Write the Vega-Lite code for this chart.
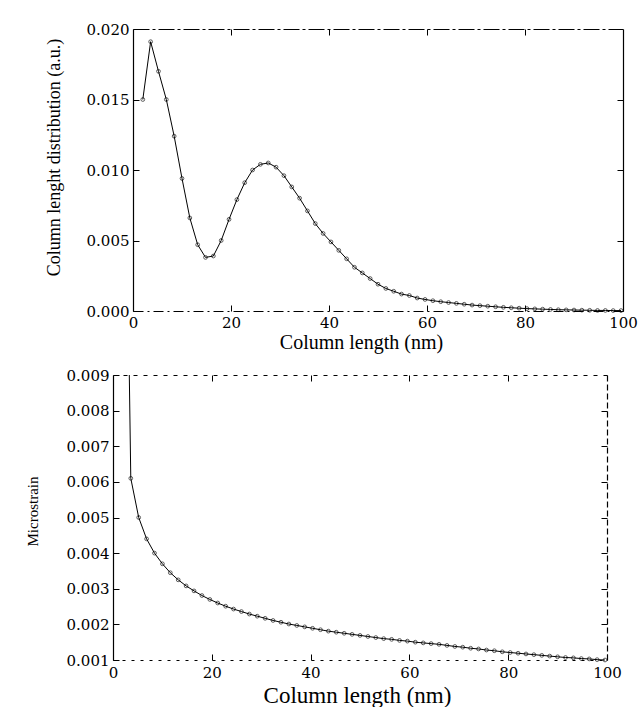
{
  "$schema": "https://vega.github.io/schema/vega-lite/v6.json",
  "padding": {"left": 25, "top": 22, "right": 0, "bottom": 0},
  "background": "white",
  "width": 490,
  "height": 631,
  "config": {
    "view": {"stroke": null},
    "axis": {
      "grid": false,
      "domainColor": "black",
      "tickColor": "black",
      "labelColor": "black",
      "titleColor": "black",
      "labelFont": "DejaVu Serif",
      "labelFontSize": 15,
      "titleFont": "Liberation Serif",
      "titleFontWeight": "normal",
      "tickSize": -6,
      "domainWidth": 1.2,
      "tickWidth": 1,
      "labelFlush": false
    }
  },
  "datasets": {
    "dist": [
      {"length": 2.0, "value": 0.0150}, {"length": 3.6, "value": 0.0191}, {"length": 5.2, "value": 0.0170},
      {"length": 6.8, "value": 0.0150}, {"length": 8.4, "value": 0.0124}, {"length": 10.0, "value": 0.0094},
      {"length": 11.6, "value": 0.0066}, {"length": 13.2, "value": 0.0047}, {"length": 14.8, "value": 0.0038},
      {"length": 16.4, "value": 0.0039}, {"length": 18.0, "value": 0.0050}, {"length": 19.6, "value": 0.0065},
      {"length": 21.2, "value": 0.0079}, {"length": 22.8, "value": 0.0091}, {"length": 24.4, "value": 0.0100},
      {"length": 26.0, "value": 0.0104}, {"length": 27.6, "value": 0.0105}, {"length": 29.2, "value": 0.0102},
      {"length": 30.8, "value": 0.0096}, {"length": 32.4, "value": 0.0088}, {"length": 34.0, "value": 0.0080},
      {"length": 35.6, "value": 0.0071}, {"length": 37.2, "value": 0.0062}, {"length": 38.8, "value": 0.0055},
      {"length": 40.4, "value": 0.0049}, {"length": 42.0, "value": 0.0043}, {"length": 43.6, "value": 0.0037},
      {"length": 45.2, "value": 0.0031}, {"length": 46.8, "value": 0.0027}, {"length": 48.4, "value": 0.0023},
      {"length": 50.0, "value": 0.0019}, {"length": 51.6, "value": 0.0016}, {"length": 53.2, "value": 0.0014},
      {"length": 54.8, "value": 0.0012}, {"length": 56.4, "value": 0.0011}, {"length": 58.0, "value": 0.00092},
      {"length": 59.6, "value": 0.00082}, {"length": 61.2, "value": 0.00073}, {"length": 62.8, "value": 0.00066},
      {"length": 64.4, "value": 0.00060}, {"length": 66.0, "value": 0.00054}, {"length": 67.6, "value": 0.00048},
      {"length": 69.2, "value": 0.00042}, {"length": 70.8, "value": 0.00038}, {"length": 72.4, "value": 0.00034},
      {"length": 74.0, "value": 0.00030}, {"length": 75.6, "value": 0.00026}, {"length": 77.2, "value": 0.00023},
      {"length": 78.8, "value": 0.00020}, {"length": 80.4, "value": 0.00017}, {"length": 82.0, "value": 0.00015},
      {"length": 83.6, "value": 0.00013}, {"length": 85.2, "value": 0.00011}, {"length": 86.8, "value": 0.00009},
      {"length": 88.4, "value": 0.00008}, {"length": 90.0, "value": 0.00007}, {"length": 91.6, "value": 0.00006},
      {"length": 93.2, "value": 0.00005}, {"length": 94.8, "value": 0.00004}, {"length": 96.4, "value": 0.00004},
      {"length": 98.0, "value": 0.00003}, {"length": 99.6, "value": 0.00003}
    ],
    "strain": [
      {"length": 3.3, "strain": 0.0090}, {"length": 3.6, "strain": 0.0061}, {"length": 5.2, "strain": 0.0050},
      {"length": 6.8, "strain": 0.0044}, {"length": 8.4, "strain": 0.0040}, {"length": 10.0, "strain": 0.0037},
      {"length": 11.6, "strain": 0.00345}, {"length": 13.2, "strain": 0.00325}, {"length": 14.8, "strain": 0.00308},
      {"length": 16.4, "strain": 0.00294}, {"length": 18.0, "strain": 0.00281}, {"length": 19.6, "strain": 0.00270},
      {"length": 21.2, "strain": 0.00260}, {"length": 22.8, "strain": 0.00251}, {"length": 24.4, "strain": 0.00243},
      {"length": 26.0, "strain": 0.00236}, {"length": 27.6, "strain": 0.00229}, {"length": 29.2, "strain": 0.00223},
      {"length": 30.8, "strain": 0.00217}, {"length": 32.4, "strain": 0.00211}, {"length": 34.0, "strain": 0.00206},
      {"length": 35.6, "strain": 0.00201}, {"length": 37.2, "strain": 0.00197}, {"length": 38.8, "strain": 0.00193},
      {"length": 40.4, "strain": 0.00189}, {"length": 42.0, "strain": 0.00185}, {"length": 43.6, "strain": 0.00181},
      {"length": 45.2, "strain": 0.00178}, {"length": 46.8, "strain": 0.00175}, {"length": 48.4, "strain": 0.00172},
      {"length": 50.0, "strain": 0.00169}, {"length": 51.6, "strain": 0.00166}, {"length": 53.2, "strain": 0.00163},
      {"length": 54.8, "strain": 0.00160}, {"length": 56.4, "strain": 0.00158}, {"length": 58.0, "strain": 0.00155},
      {"length": 59.6, "strain": 0.00153}, {"length": 61.2, "strain": 0.00150}, {"length": 62.8, "strain": 0.00148},
      {"length": 64.4, "strain": 0.00146}, {"length": 66.0, "strain": 0.00144}, {"length": 67.6, "strain": 0.00141},
      {"length": 69.2, "strain": 0.00138}, {"length": 70.8, "strain": 0.00136}, {"length": 72.4, "strain": 0.00133},
      {"length": 74.0, "strain": 0.00131}, {"length": 75.6, "strain": 0.00128}, {"length": 77.2, "strain": 0.00126},
      {"length": 78.8, "strain": 0.00123}, {"length": 80.4, "strain": 0.00121}, {"length": 82.0, "strain": 0.00119},
      {"length": 83.6, "strain": 0.00117}, {"length": 85.2, "strain": 0.00115}, {"length": 86.8, "strain": 0.00113},
      {"length": 88.4, "strain": 0.00111}, {"length": 90.0, "strain": 0.00109}, {"length": 91.6, "strain": 0.00107},
      {"length": 93.2, "strain": 0.00106}, {"length": 94.8, "strain": 0.00104}, {"length": 96.4, "strain": 0.00103},
      {"length": 98.0, "strain": 0.00101}, {"length": 99.6, "strain": 0.00100}
    ]
  },
  "layer": [
    {
      "data": {"name": "dist"},
      "mark": {"type": "line", "color": "black", "strokeWidth": 1},
      "encoding": {
        "x": {
          "field": "length", "type": "quantitative",
          "scale": {"domain": [0, 100], "range": [0, 490], "nice": false},
          "axis": {
            "orient": "bottom", "offset": -349, "values": [0, 20, 40, 60, 80, 100],
            "title": "Column length  (nm)", "titleFontSize": 20,
            "titleX": 228, "titleY": 31, "titleBaseline": "middle",
            "labelPadding": 10, "domainDash": [10, 4, 2, 4]
          }
        },
        "y": {
          "field": "value", "type": "quantitative",
          "scale": {"domain": [0, 0.02], "range": [282, 0], "nice": false, "zero": false},
          "axis": {
            "orient": "left", "values": [0, 0.005, 0.01, 0.015, 0.02], "format": ".3f",
            "title": "Column lenght distribution (a.u.)", "titleFontSize": 18,
            "titleX": -79, "titleY": 128, "titleBaseline": "middle", "labelPadding": 10
          }
        }
      }
    },
    {
      "data": {"name": "dist"},
      "mark": {"type": "point", "shape": "circle", "filled": false, "color": "black", "size": 14, "strokeWidth": 0.9},
      "encoding": {
        "x": {
          "field": "length", "type": "quantitative",
          "scale": {"domain": [0, 100], "range": [0, 490], "nice": false},
          "axis": {"orient": "top", "values": [20, 40, 60, 80], "labels": false, "title": null, "domainDash": [16, 3, 3, 3]}
        },
        "y": {
          "field": "value", "type": "quantitative",
          "scale": {"domain": [0, 0.02], "range": [282, 0], "nice": false, "zero": false},
          "axis": {"orient": "right", "values": [0.005, 0.01, 0.015], "labels": false, "title": null}
        }
      }
    },
    {
      "data": {"name": "strain"},
      "mark": {"type": "line", "color": "black", "strokeWidth": 1},
      "encoding": {
        "x": {
          "field": "length", "type": "quantitative",
          "scale": {"domain": [0, 100], "range": [-20, 474], "nice": false},
          "axis": {
            "orient": "bottom", "values": [0, 20, 40, 60, 80, 100],
            "title": "Column length  (nm)", "titleFontSize": 23,
            "titleX": 224, "titleY": 35, "titleBaseline": "middle",
            "labelPadding": 11, "domainDash": [3, 6]
          }
        },
        "y": {
          "field": "strain", "type": "quantitative",
          "scale": {"domain": [0.001, 0.009], "range": [631, 346], "nice": false, "zero": false},
          "axis": {
            "orient": "left", "offset": 20, "values": [0.001, 0.002, 0.003, 0.004, 0.005, 0.006, 0.007, 0.008, 0.009], "format": ".3f",
            "title": "Microstrain", "titleFontSize": 15,
            "titleX": -81, "titleY": 482, "titleBaseline": "middle", "labelPadding": 10
          }
        }
      }
    },
    {
      "data": {"name": "strain"},
      "transform": [{"filter": "datum.strain < 0.009"}],
      "mark": {"type": "point", "shape": "circle", "filled": false, "color": "black", "size": 14, "strokeWidth": 0.9},
      "encoding": {
        "x": {
          "field": "length", "type": "quantitative",
          "scale": {"domain": [0, 100], "range": [-20, 474], "nice": false},
          "axis": {"orient": "top", "offset": -346, "values": [20, 40, 60, 80], "labels": false, "title": null, "domainDash": [4, 6]}
        },
        "y": {
          "field": "strain", "type": "quantitative",
          "scale": {"domain": [0.001, 0.009], "range": [631, 346], "nice": false, "zero": false},
          "axis": {"orient": "right", "offset": -16, "values": [0.002, 0.003, 0.004, 0.005, 0.006, 0.007, 0.008], "labels": false, "title": null, "domainDash": [6, 3]}
        }
      }
    }
  ],
  "resolve": {
    "scale": {"x": "independent", "y": "independent"},
    "axis": {"x": "independent", "y": "independent"}
  }
}
